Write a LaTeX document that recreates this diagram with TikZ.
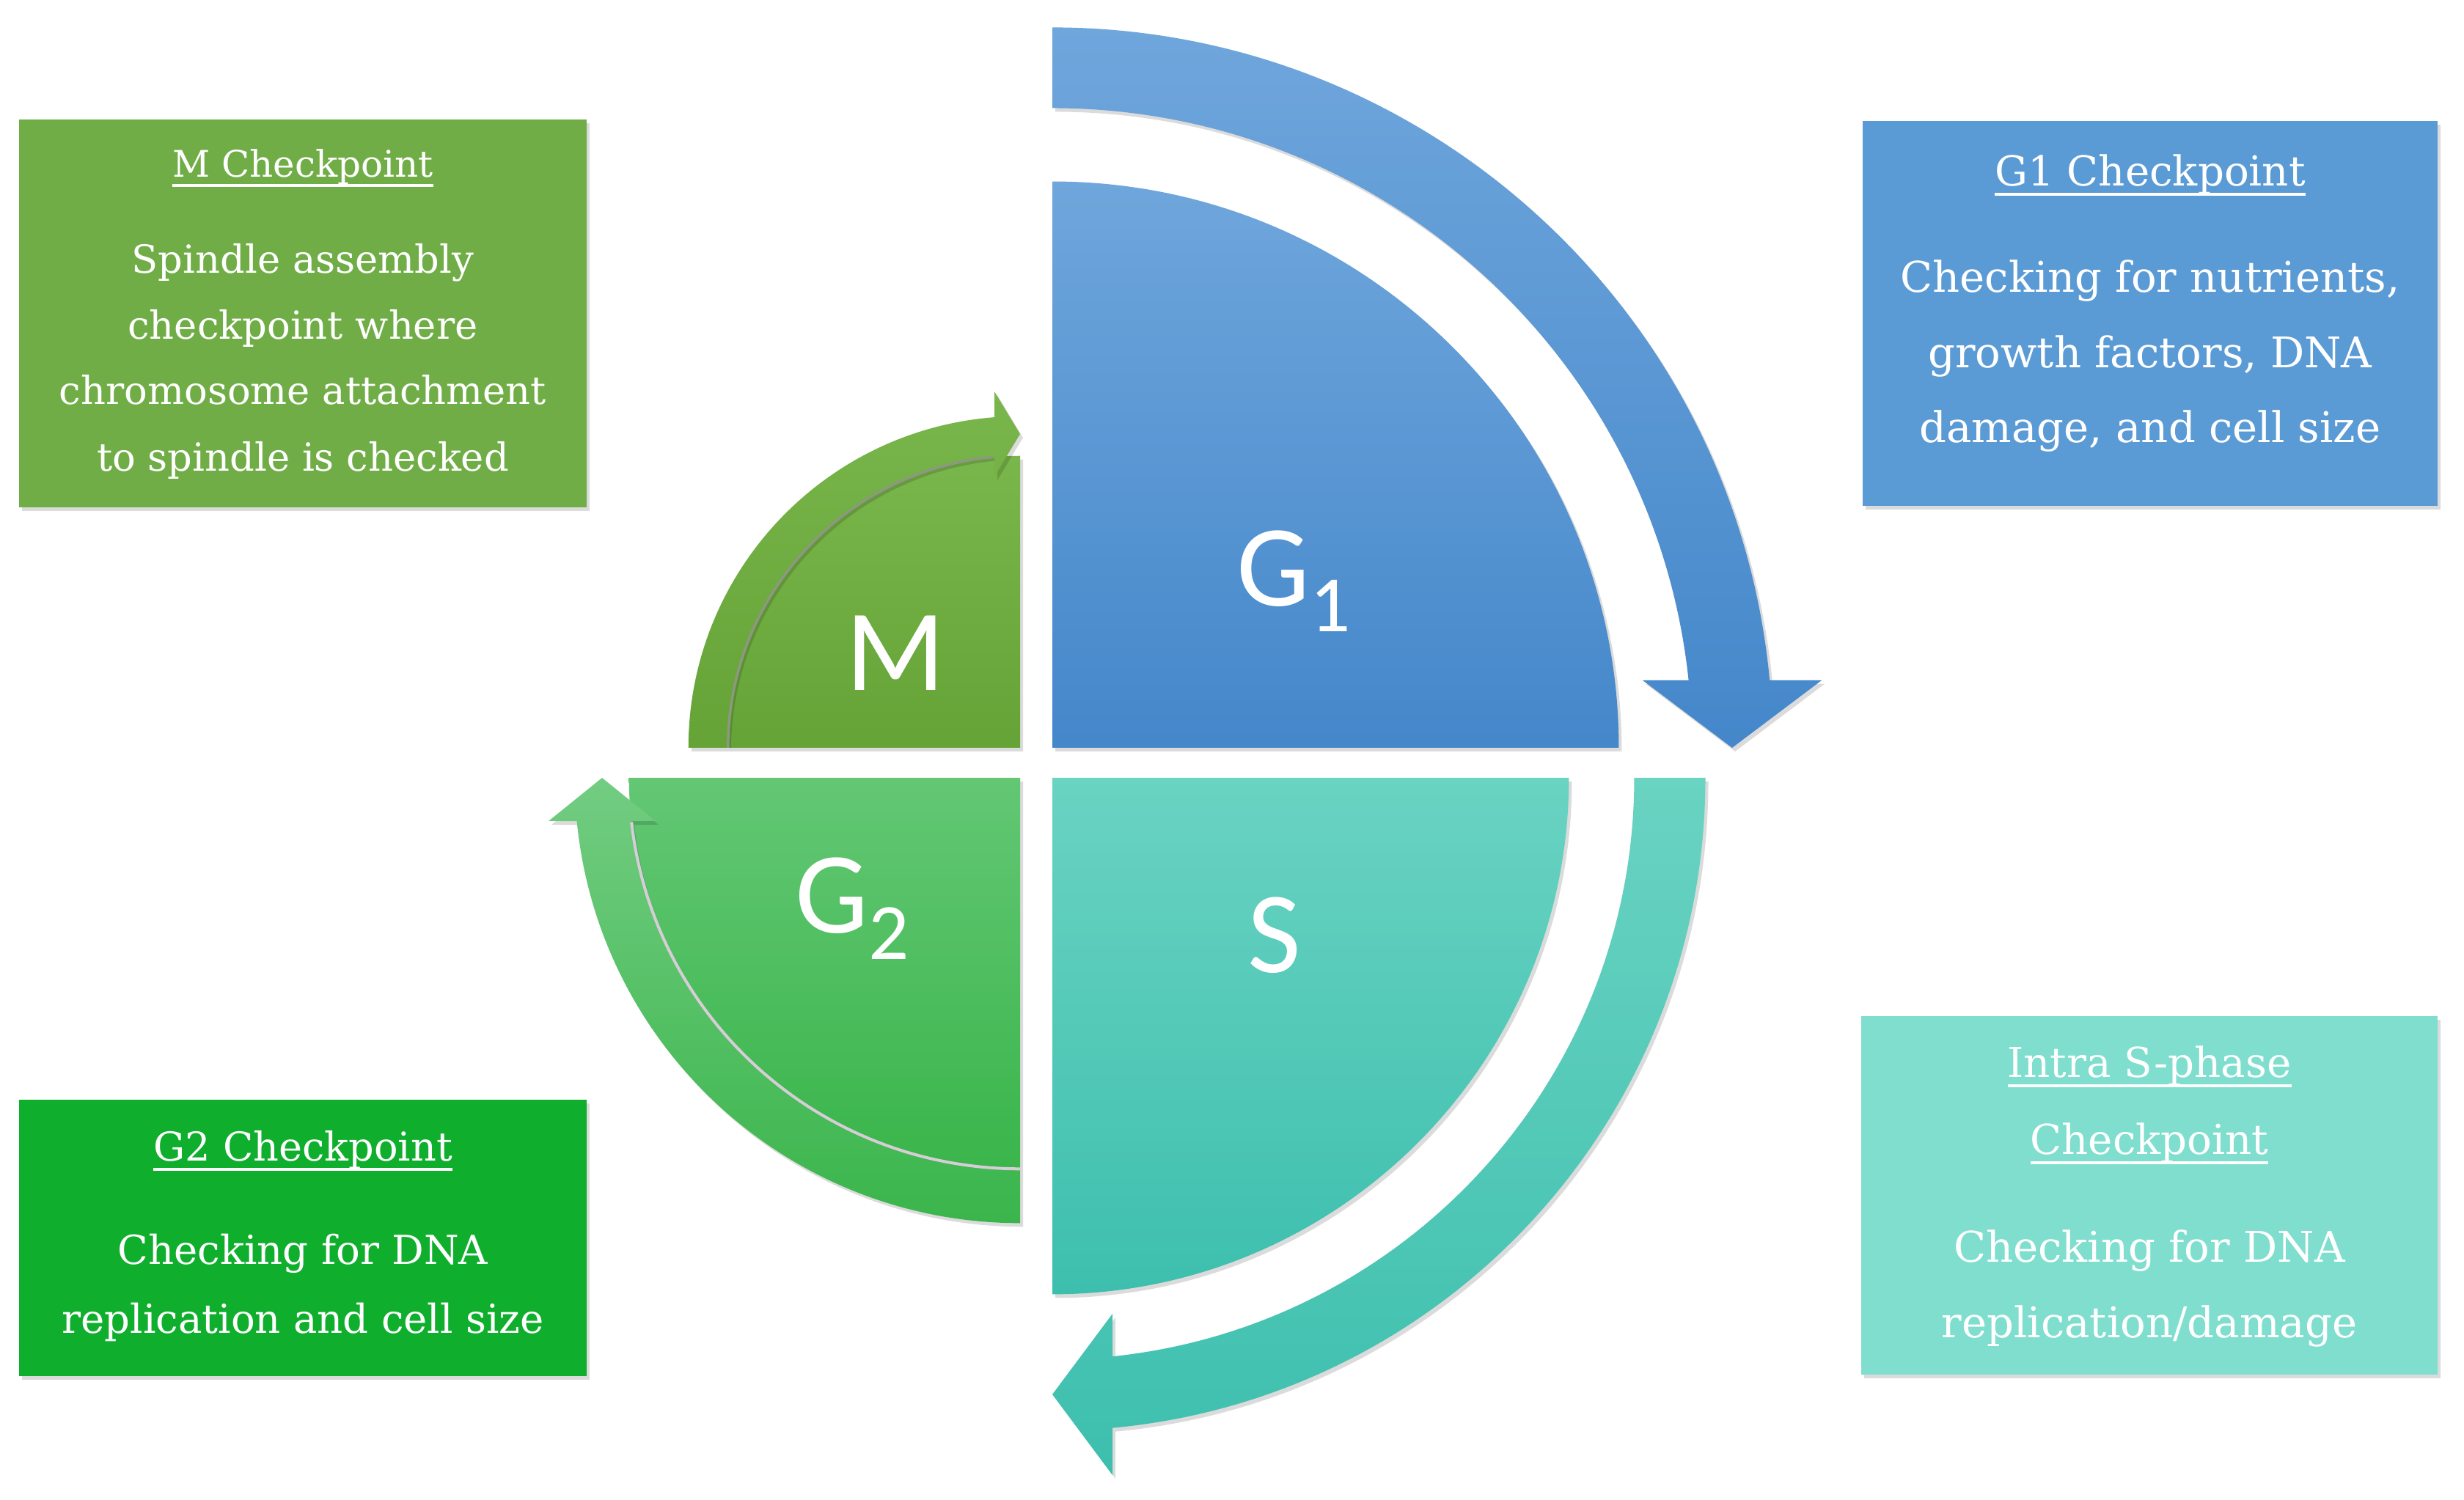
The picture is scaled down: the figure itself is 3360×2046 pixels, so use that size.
\documentclass[tikz,border=0pt]{standalone}
\usepackage{fontspec}
\setmainfont{DejaVu Serif}
\newfontfamily\labfont{Carlito}
\definecolor{mboxc}{RGB}{112,173,71}
\definecolor{gaboxc}{RGB}{91,155,213}
\definecolor{gbboxc}{RGB}{15,175,45}
\definecolor{sboxc}{RGB}{128,222,206}
\definecolor{gatop}{RGB}{111,166,220}
\definecolor{gabot}{RGB}{68,135,202}
\definecolor{stop}{RGB}{106,211,194}
\definecolor{sbot}{RGB}{61,191,174}
\definecolor{mtop}{RGB}{121,182,75}
\definecolor{mbot}{RGB}{102,163,55}
\definecolor{gbtop}{RGB}{99,199,116}
\definecolor{gbbot}{RGB}{58,181,75}
\definecolor{mline}{RGB}{140,152,128}
\definecolor{gbline}{RGB}{215,205,215}
\newcommand{\ulh}[1]{\setbox0\hbox{#1}\rlap{\rule[-3.6pt]{\wd0}{1pt}}\box0}
\begin{document}
\begin{tikzpicture}[x=0.01cm,y=0.01cm,
  shd/.style={preaction={fill=black,opacity=0.14,transform canvas={xshift=0.04cm,yshift=-0.05cm}}},
  boxst/.style={rectangle,inner sep=0pt,draw=none,shd},
  txt/.style={text=white,inner sep=0pt,anchor=base},
  lab/.style={text=white,inner sep=0pt,font=\labfont\fontsize{45pt}{45pt}\selectfont},
  mfont/.style={font=\fontsize{15pt}{18pt}\selectfont},
  mhfont/.style={font=\fontsize{14.2pt}{17pt}\selectfont},
  gfont/.style={font=\fontsize{16.4pt}{19pt}\selectfont},
  ghfont/.style={font=\fontsize{16pt}{19pt}\selectfont},
  g2font/.style={font=\fontsize{15.5pt}{18pt}\selectfont},
  g2hfont/.style={font=\fontsize{15.4pt}{18pt}\selectfont}
]
\useasboundingbox (0,0) rectangle (3360,2046);
\fill[white] (0,0) rectangle (3360,2046);

\coordinate (cGa) at (1435,1026);
\coordinate (cS) at (1435,985);
\coordinate (cM) at (1391,1026);
\coordinate (cGb) at (1391,985);

% quadrants
\path[shd,top color=gatop,bottom color=gabot] (cGa) -- ++(0:7.72cm) arc[start angle=0,end angle=90,radius=7.72cm] -- cycle;
\path[shd,top color=stop,bottom color=sbot] (cS) -- ++(-90:7.04cm) arc[start angle=-90,end angle=0,radius=7.04cm] -- cycle;
\path[shd,top color=mtop,bottom color=mbot] (cM) -- ++(90:3.98cm) arc[start angle=90,end angle=180,radius=3.98cm] -- cycle;
\path[shd,top color=gbtop,bottom color=gbbot] (cGb) -- ++(180:5.33cm) arc[start angle=180,end angle=270,radius=5.33cm] -- cycle;

% G1 arrow
\path[shd,top color=gatop,bottom color=gabot]
  ([shift={(90:9.82cm)}]cGa) arc[start angle=90,end angle=5.38,radius=9.82cm]
  -- ([shift={(1049,92)}]cGa) -- ([shift={(927,0)}]cGa) -- ([shift={(805,92)}]cGa)
  -- ([shift={(6.06:8.72cm)}]cGa) arc[start angle=6.06,end angle=90,radius=8.72cm] -- cycle;

% S arrow
\path[shd,top color=stop!92!black!0,top color=stop,bottom color=sbot]
  ([shift={(0:8.90cm)}]cS) arc[start angle=0,end angle=-84.71,radius=8.90cm]
  -- ([shift={(82,-951)}]cS) -- ([shift={(0,-841)}]cS) -- ([shift={(82,-731)}]cS)
  -- ([shift={(-84.06:7.93cm)}]cS) arc[start angle=-84.06,end angle=0,radius=7.93cm] -- cycle;

% G2 arrow
\path[shd,top color=gbtop!90!white,bottom color=gbbot]
  ([shift={(270:6.07cm)}]cGb) arc[start angle=270,end angle=185.58,radius=6.07cm]
  -- ([shift={(-643,-59)}]cGb) -- ([shift={(-570,0)}]cGb) -- ([shift={(-497,-59)}]cGb)
  -- ([shift={(186.36:5.33cm)}]cGb) arc[start angle=186.36,end angle=270,radius=5.33cm] -- cycle;
\draw[gbline,line width=0.04cm] ([shift={(186.5:5.33cm)}]cGb) arc[start angle=186.5,end angle=270,radius=5.33cm];

% M arrow
\path[shd,top color=mtop,bottom color=mbot]
  ([shift={(180:4.52cm)}]cM) arc[start angle=180,end angle=94.44,radius=4.52cm]
  -- ([shift={(-35,486)}]cM) -- ([shift={(0,428)}]cM) -- ([shift={(-35,370)}]cM)
  -- ([shift={(95.05:3.98cm)}]cM) arc[start angle=95.05,end angle=180,radius=3.98cm] -- cycle;
\draw[mline,line width=0.035cm] ([shift={(95.3:3.98cm)}]cM) arc[start angle=95.3,end angle=180,radius=3.98cm];

% phase labels
\node[lab,anchor=base west] (lGa) at (1686,1219) {G\raisebox{-9.7pt}{\fontsize{31pt}{31pt}\selectfont 1}};
\node[lab,anchor=base] (lM) at (1221,1104) {M};
\node[lab,anchor=base] (lS) at (1738,719) {S};
\node[lab,anchor=base west] (lGb) at (1084,773) {G\raisebox{-10.2pt}{\fontsize{31pt}{31pt}\selectfont 2}};

% boxes
\node[boxst,fill=mboxc,minimum width=7.74cm,minimum height=5.29cm] (mbox) at (413,1618.5) {};
\node[boxst,fill=gaboxc,minimum width=7.84cm,minimum height=5.25cm] (gabox) at (2932,1618.5) {};
\node[boxst,fill=gbboxc,minimum width=7.74cm,minimum height=3.77cm] (gbbox) at (413,357.5) {};
\node[boxst,fill=sboxc,minimum width=7.86cm,minimum height=4.89cm] (sbox) at (2931,415.5) {};

% M box text
\node[txt,mhfont] (mh) at (413,1804) {\ulh{M Checkpoint}};
\node[txt,mfont] (m1) at (413,1673) {Spindle assembly};
\node[txt,mfont] (m2) at (413,1583) {checkpoint where};
\node[txt,mfont] (m3) at (413,1494) {chromosome attachment};
\node[txt,mfont] (m4) at (413,1403) {to spindle is checked};

% G1 box text
\node[txt,ghfont] (gah) at (2932,1792) {\ulh{G1 Checkpoint}};
\node[txt,gfont] (ga1) at (2932,1647) {Checking for nutrients,};
\node[txt,gfont] (ga2) at (2932,1544) {growth factors, DNA};
\node[txt,gfont] (ga3) at (2932,1442) {damage, and cell size};

% G2 box text
\node[txt,g2hfont] (gbh) at (413,462) {\ulh{G2 Checkpoint}};
\node[txt,g2font] (gb1) at (413,321) {Checking for DNA};
\node[txt,g2font] (gb2) at (413,227) {replication and cell size};

% S box text
\node[txt,ghfont] (sh1) at (2931,576) {\ulh{Intra S-phase}};
\node[txt,ghfont] (sh2) at (2931,471) {\ulh{Checkpoint}};
\node[txt,gfont] (s1) at (2931,324) {Checking for DNA};
\node[txt,gfont] (s2) at (2931,221) {replication/damage};
\end{tikzpicture}
\end{document}
